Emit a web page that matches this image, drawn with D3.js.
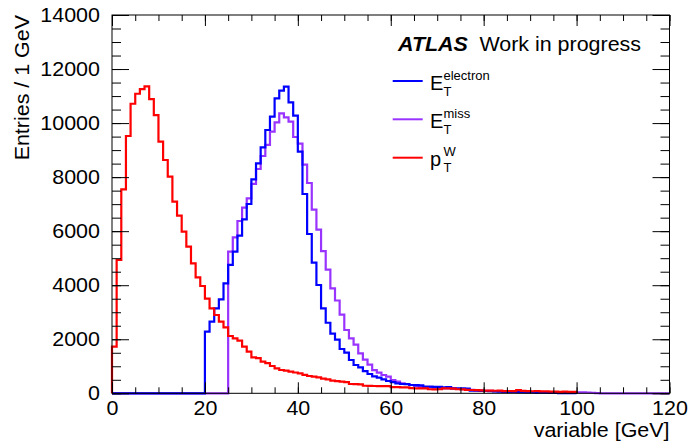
<!DOCTYPE html>
<html>
<head>
<meta charset="utf-8">
<script src="https://cdn.jsdelivr.net/npm/d3@7"></script>
<style>
  body { margin: 0; background: #fff; }
  text { font-family: "Liberation Sans", Arial, sans-serif; fill: #000; }
</style>
</head>
<body>
<div id="chart"></div>
<script>
// bin contents, 1 GeV bins starting at 0
var electronEt = [
  0,0,0,0,0,0,0,0,0,0, 0,0,0,0,0,0,0,0,0,0,
  2281,2651,3146,3479,4071,4750,5241,5833,6440,7006,
  7920,8512,9104,9745,10237,10918,11199,11347,10770,10274,
  8942,7376,5896,4834,4008,3146,2610,2210,1985,1640,
  1504,1232,1047,960,820,714,630,580,518,455,
  410,370,344,340,307,300,290,250,246,240,
  235,222,225,185,180,185,175,100,96,90,
  85,80,70,65,55,50,50,45,40,35,
  30,25,25,20,15,15,10,10,8,5
]
var missEt = [
  0,0,0,0,0,0,0,0,0,0, 0,0,0,0,0,0,0,0,0,0,
  0,0,0,0,0,5241,5774,6377,6869,7217,
  7750,8300,8782,9190,9683,10029,10363,10215,10052,9485,
  9240,8460,7783,6800,6060,5260,4576,3886,3435,2910,
  2343,2036,1800,1480,1245,1060,860,762,677,615,
  492,429,370,344,307,270,240,233,230,210,
  185,185,180,185,160,150,148,130,110,96,
  95,90,80,75,70,65,60,60,55,50,
  50,45,45,40,40,38,36,35,35,37,
  37,35,30,20,5,0,0,0,0,0,
  0,0,0,0,0,0,0,0,0,0
]
var wPt = [
  1724,4933,7550,9523,10715,11085,11259,11356,10889,10296,
  9312,8634,8017,7091,6573,5981,5426,4811,4293,3971,
  3501,3146,2898,2650,2443,2121,2036,1947,1725,1540,
  1332,1300,1170,1120,1010,925,862,837,800,770,
  740,680,640,615,592,540,518,466,450,430,
  410,344,340,330,280,275,270,268,265,262,
  230,225,222,220,190,185,185,180,150,148,
  150,185,180,170,150,145,125,122,120,110,
  100,100,95,100,80,85,80,120,90,80,
  75,85,70,70,60,65,55,60,50,55
]
var xTicks = [0, 20, 40, 60, 80, 100, 120]
var yTicks = [0, 2000, 4000, 6000, 8000, 10000, 12000, 14000]

var width = 689
var height = 445
// frame edges (note: "top" is a reserved window property, so use other names)
var padL = 112, padR = 669.5, padT = 15, padB = 393.3
var font = 19.5
var stretch = 'scale(1.1,1)'   // the picture's text is a bit wider than tall

var svg = d3.select('#chart')
    .append('svg')
    .attr('width', width)
    .attr('height', height)

var x = d3.scaleLinear().domain([0, 120]).range([padL, padR])
var y = d3.scaleLinear().domain([0, 14000]).range([padB, padT])

function histPath(values) {
    var pts = [[0, 0]]
    values.forEach(function(v, i) { pts.push([i, v]) })
    pts.push([values.length, values[values.length - 1]])
    pts.push([values.length, 0])
    return d3.line()
        .x(function(d) { return x(d[0]) })
        .y(function(d) { return y(d[1]) })
        .curve(d3.curveStepAfter)(pts)
}

var series = [
    {vals: missEt, color: '#9933ff'},
    {vals: electronEt, color: '#0000ff'},
    {vals: wPt, color: '#ff0000'}
]

svg.append('g')
    .selectAll('path')
    .data(series)
    .enter()
    .append('path')
    .attr('d', function(d) { return histPath(d.vals) })
    .attr('fill', 'none')
    .attr('stroke', function(d) { return d.color })
    .attr('stroke-width', 2.2)

// axes, ROOT style ticks pointing inward
function styleAxis(g) {
    g.select('.domain').remove()
    g.selectAll('line').attr('stroke', '#000')
    g.selectAll('text')
        .style('font-size', font + 'px')
        .attr('fill', '#000')
        .attr('transform', stretch)
}

var xMinor = d3.range(0, 121, 5)
var yMinor = d3.range(0, 14001, 500)

svg.append('g')
    .attr('transform', 'translate(0,' + padB + ')')
    .call(d3.axisBottom(x).tickValues(xMinor).tickSize(-6).tickFormat(''))
    .call(styleAxis)
svg.append('g')
    .attr('transform', 'translate(0,' + padB + ')')
    .call(d3.axisBottom(x).tickValues(xTicks).tickSize(-11).tickPadding(8).tickFormat(d3.format('d')))
    .call(styleAxis)
svg.append('g')
    .attr('transform', 'translate(0,' + padT + ')')
    .call(d3.axisTop(x).tickValues(xMinor).tickSize(-6).tickFormat(''))
    .call(styleAxis)
svg.append('g')
    .attr('transform', 'translate(0,' + padT + ')')
    .call(d3.axisTop(x).tickValues(xTicks).tickSize(-11).tickFormat(''))
    .call(styleAxis)

svg.append('g')
    .attr('transform', 'translate(' + padL + ',0)')
    .call(d3.axisLeft(y).tickValues(yMinor).tickSize(-9).tickFormat(''))
    .call(styleAxis)
svg.append('g')
    .attr('transform', 'translate(' + padL + ',0)')
    .call(d3.axisLeft(y).tickValues(yTicks).tickSize(-17).tickPadding(11).tickFormat(d3.format('d')))
    .call(styleAxis)
svg.append('g')
    .attr('transform', 'translate(' + padR + ',0)')
    .call(d3.axisRight(y).tickValues(yMinor).tickSize(-9).tickFormat(''))
    .call(styleAxis)
svg.append('g')
    .attr('transform', 'translate(' + padR + ',0)')
    .call(d3.axisRight(y).tickValues(yTicks).tickSize(-17).tickFormat(''))
    .call(styleAxis)

svg.append('rect')
    .attr('x', padL)
    .attr('y', padT)
    .attr('width', padR - padL)
    .attr('height', padB - padT)
    .attr('fill', 'none')
    .attr('stroke', '#000')
    .attr('stroke-width', 1)

// axis titles
svg.append('g')
    .attr('transform', 'translate(' + padR + ',437) ' + stretch)
    .append('text')
    .attr('text-anchor', 'end')
    .style('font-size', font + 'px')
    .text('variable [GeV]')

svg.append('g')
    .attr('transform', 'translate(29,' + padT + ') rotate(-90) ' + stretch)
    .append('text')
    .attr('text-anchor', 'end')
    .style('font-size', font + 'px')
    .text('Entries / 1 GeV')

// ATLAS label
var lab = svg.append('g')
    .attr('transform', 'translate(398,51) ' + stretch)
    .append('text')
    .style('font-size', font + 'px')
lab.append('tspan')
    .style('font-weight', 'bold')
    .style('font-style', 'italic')
    .text('ATLAS')
lab.append('tspan')
    .attr('x', 74)
    .text('Work in progress')

// legend
var legend = [
    {main: 'E', sup: 'electron', color: '#0000ff', y: 81},
    {main: 'E', sup: 'miss', color: '#9933ff', y: 119.3},
    {main: 'p', sup: 'W', color: '#ff0000', y: 157.7}
]

var lg = svg.append('g')
    .selectAll('g')
    .data(legend)
    .enter()
    .append('g')

lg.append('line')
    .attr('x1', 392.7)
    .attr('x2', 422.7)
    .attr('y1', function(d) { return d.y })
    .attr('y2', function(d) { return d.y })
    .attr('stroke', function(d) { return d.color })
    .attr('stroke-width', 2)

lg.append('text')
    .attr('x', 430)
    .attr('y', function(d) { return d.y + 8.5 })
    .style('font-size', '20px')
    .text(function(d) { return d.main })
lg.append('text')
    .attr('x', 443.5)
    .attr('y', function(d) { return d.y - 1.5 })
    .style('font-size', '13px')
    .text(function(d) { return d.sup })
lg.append('text')
    .attr('x', 443.5)
    .attr('y', function(d) { return d.y + 14.5 })
    .style('font-size', '13px')
    .text('T')
</script>
</body>
</html>
